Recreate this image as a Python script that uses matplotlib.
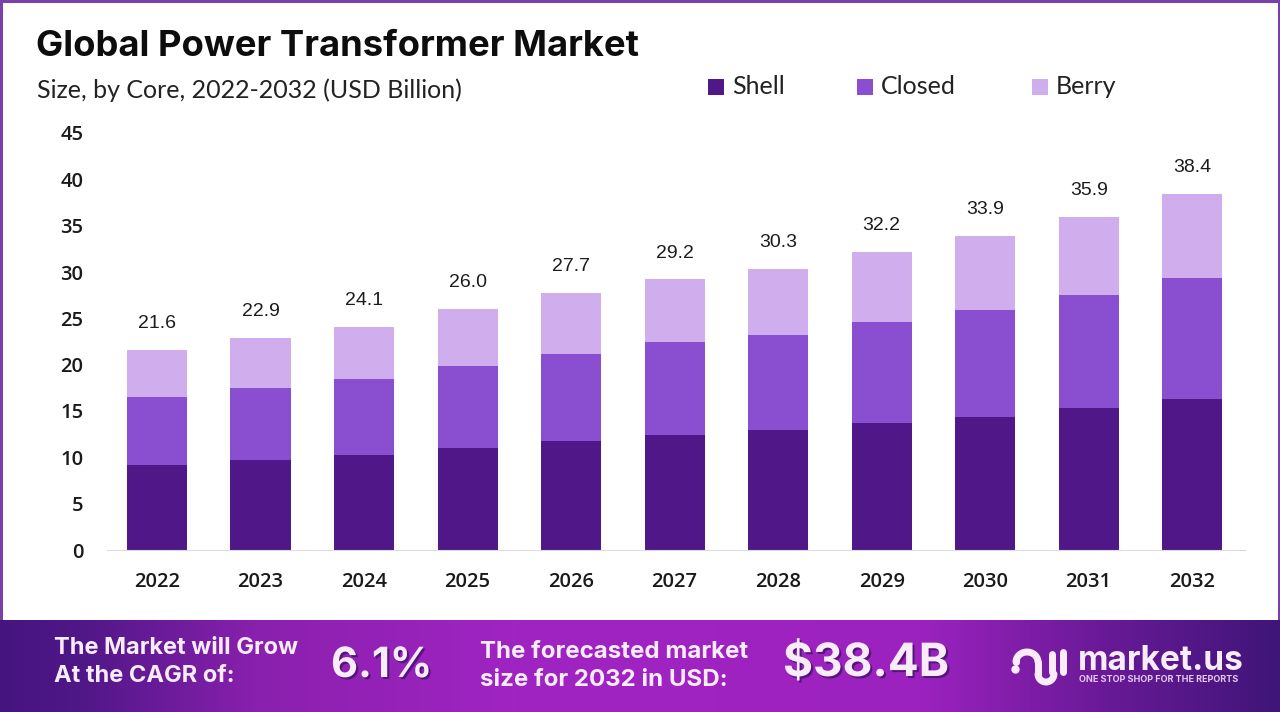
import numpy as np
import matplotlib
matplotlib.use("Agg")
import matplotlib.pyplot as plt
import matplotlib.patheffects as pe
from matplotlib.patches import Rectangle
from matplotlib.colors import LinearSegmentedColormap

years = ["2022", "2023", "2024", "2025", "2026", "2027", "2028", "2029", "2030", "2031", "2032"]
shell = [9.2, 9.7, 10.2, 11.0, 11.8, 12.4, 12.9, 13.7, 14.4, 15.3, 16.3]
closed = [7.3, 7.8, 8.2, 8.9, 9.4, 10.0, 10.3, 10.9, 11.5, 12.2, 13.1]
berry = [5.1, 5.4, 5.7, 6.1, 6.5, 6.8, 7.1, 7.6, 8.0, 8.4, 9.0]
totals = [21.6, 22.9, 24.1, 26.0, 27.7, 29.2, 30.3, 32.2, 33.9, 35.9, 38.4]
y_ticks = [0, 5, 10, 15, 20, 25, 30, 35, 40, 45]

SHELL_C = "#4f1787"
CLOSED_C = "#8a4fd0"
BERRY_C = "#d0aeee"
W, H = 1280, 712

fig = plt.figure(figsize=(W / 100, H / 100), dpi=100, facecolor="white")

# chart area, placed by pixels
ax = fig.add_axes([107 / W, 1 - 550 / H, (1245 - 107) / W, (550 - 133) / H])
x = np.arange(len(years))
bw = 0.58
ax.bar(x, shell, bw, color=SHELL_C, label="Shell")
ax.bar(x, closed, bw, bottom=shell, color=CLOSED_C, label="Closed")
ax.bar(x, berry, bw, bottom=np.add(shell, closed), color=BERRY_C, label="Berry")
for i, t in enumerate(totals):
    ax.annotate(f"{t:.1f}", (i, t), xytext=(0, 19), textcoords="offset points",
                ha="center", va="center", fontsize=14, color="#1c1c1c", family="Liberation Sans")

ax.set_xlim(-0.483, 10.51)
ax.set_ylim(0, 45)
ax.set_xticks(x, years)
ax.set_yticks(y_ticks)
ax.tick_params(axis="both", length=0, labelsize=14.5, labelcolor="#1a1a1a")
ax.tick_params(axis="x", pad=16)
ax.tick_params(axis="y", pad=17)
for lab in ax.get_xticklabels() + ax.get_yticklabels():
    lab.set_family("Open Sans")
    lab.set_fontweight("semibold")
for s in ["top", "right", "left"]:
    ax.spines[s].set_visible(False)
ax.spines["bottom"].set_color("#dcdce0")

# overlay in pixel coordinates for header, banner and frame
ov = fig.add_axes([0, 0, 1, 1], zorder=5)
ov.set_xlim(0, W)
ov.set_ylim(H, 0)
ov.axis("off")
ov.patch.set_alpha(0)

ov.text(36, 46, "Global Power Transformer Market", fontsize=26.2, fontweight="bold",
        family="Inter", color="#0d0d0d", va="center")
ov.text(37, 90, "Size, by Core, 2022-2032 (USD Billion)", fontsize=18, family="Lato",
        color="#222222", va="center")

# legend
for px, name, c in [(708, "Shell", SHELL_C), (857, "Closed", CLOSED_C), (1032, "Berry", BERRY_C)]:
    ov.add_patch(Rectangle((px, 79), 16, 16, color=c, lw=0))
    ov.text(px + 24, 87, name, fontsize=18, family="Lato", color="#222222", va="center")

# banner gradient
cmap = LinearSegmentedColormap.from_list("band", [(0, "#45157f"), (0.06, "#4f1787"), (0.2, "#8a20ae"),
                                                   (0.4, "#a024c2"), (0.72, "#9c22bf"), (0.86, "#6a1a98"),
                                                   (1, "#3f1578")])
ov.imshow(np.linspace(0, 1, 512).reshape(1, -1), extent=(0, W, 712, 620), cmap=cmap, aspect="auto", zorder=1)
ov.set_xlim(0, W)
ov.set_ylim(H, 0)

shadow = [pe.withSimplePatchShadow(offset=(1.5, -1.5), shadow_rgbFace="#3a1060", alpha=0.7)]
txt = "#f8ecfb"
ov.text(54, 662, "The Market will Grow\nAt the CAGR of:", fontsize=17, fontweight="bold", family="Inter",
        color=txt, va="center", linespacing=1.3, zorder=3)
ov.text(331, 666, "6.1%", fontsize=30, fontweight="bold", family="Inter", color=txt, va="center",
        zorder=3, path_effects=shadow)
ov.text(480, 666, "The forecasted market\nsize for 2032 in USD:", fontsize=17.3, fontweight="bold", family="Inter",
        color=txt, va="center", linespacing=1.3, zorder=3)
ov.text(783, 664, "$38.4B", fontsize=33, fontweight="bold", family="Inter", color=txt, va="center",
        zorder=3, path_effects=shadow)

# logo
ov.text(1078, 661, "market.us", fontsize=24, fontweight="bold", family="Inter", color=txt, va="center", zorder=3)
ov.text(1079, 680, "ONE STOP SHOP FOR THE REPORTS", fontsize=6.5, fontweight="bold", family="Inter",
        color="#e6c8f0", va="center", zorder=3)
t = np.linspace(np.pi, 0, 30)
ov.plot(1027 + 11 * np.cos(t), 662 - 10 * np.sin(t), color=txt, lw=5, solid_capstyle="round", zorder=3)
ov.plot([1038, 1038], [662, 674], color=txt, lw=5, solid_capstyle="round", zorder=3)
ov.plot(1046 - 8 * np.cos(t), 674 + 8 * np.sin(t), color=txt, lw=5, solid_capstyle="round", zorder=3)
ov.plot([1016, 1016], [660, 662], color=txt, lw=5, solid_capstyle="round", zorder=3)
ov.plot([1052, 1052], [654, 672], color=txt, lw=5, solid_capstyle="round", zorder=3)
ov.plot([1063, 1063], [652, 672], color=txt, lw=5, solid_capstyle="round", zorder=3)
ov.plot([1015], [669], "o", color=txt, ms=5, zorder=3)

# frame
ov.add_patch(Rectangle((0, 0), W, 2.5, color="#7a3fa8", lw=0, zorder=4))
ov.add_patch(Rectangle((0, 0), 2.5, 620, color="#7a3fa8", lw=0, zorder=4))
ov.add_patch(Rectangle((W - 2.5, 0), 2.5, 620, color="#7a3fa8", lw=0, zorder=4))

fig.savefig("out.png", dpi=100)
